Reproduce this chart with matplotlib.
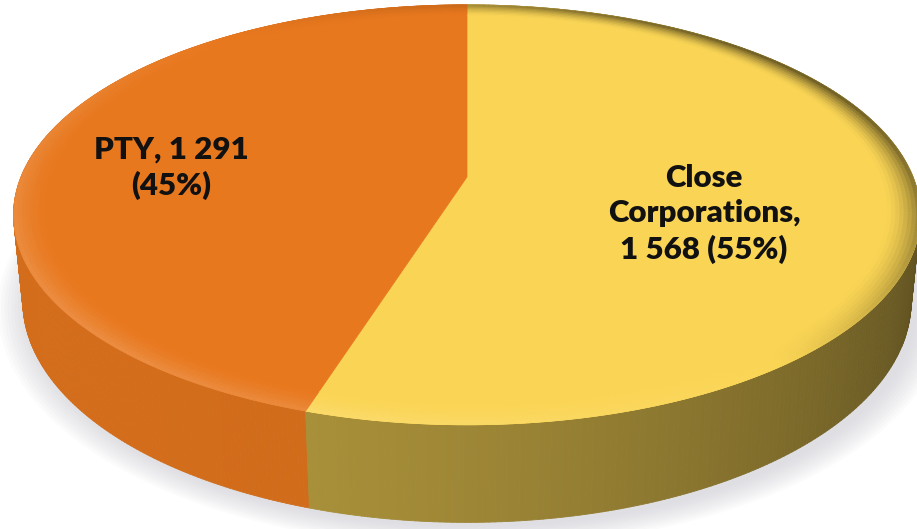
import numpy as np
import matplotlib.pyplot as plt
from matplotlib.patches import Polygon
from matplotlib.collections import PolyCollection
from matplotlib.colors import to_rgb

# data
labels = ['Close\nCorporations', 'PTY']
counts = [1568, 1291]
top_colors = ['#FAD555', '#E8781E']
label_pos = [(704, 214), (171, 168)]

W, H = 917, 529
fig = plt.figure(figsize=(W / 100, H / 100), dpi=100)
ax = fig.add_axes([0, 0, 1, 1])
ax.set_xlim(0, W)
ax.set_ylim(H, 0)
ax.axis('off')

# simple perspective camera for the 3-D disc
CX, CY, S = 467, 177, 446
PHI = np.radians(27.1)
D = 4.94
TH = 0.219


def proj(X, Y, Z):
    depth = D + Y * np.cos(PHI) - Z * np.sin(PHI)
    u = Y * np.sin(PHI) + Z * np.cos(PHI)
    return CX + S * X * D / depth, CY - S * u * D / depth


def shade(t):
    # light from front-left
    return -0.8 * np.sin(t) - 0.6 * np.cos(t)


total = sum(counts)
fracs = np.array(counts) / total
edges = np.concatenate([[0], np.cumsum(fracs)]) * 2 * np.pi

# soft shadow
t_all = np.linspace(0, 2 * np.pi, 400)
for k in range(10):
    r = 1.0 + 0.007 * k
    sx, sy = proj(r * np.sin(t_all) + 0.012, r * np.cos(t_all) - 0.015, -TH)
    ax.add_patch(Polygon(np.column_stack([sx, sy]), closed=True,
                         fc='#c8c8d0', ec='none', alpha=0.07, zorder=1))

# side walls
side_polys, side_cols, side_keys = [], [], []
for i in range(len(counts)):
    base = np.array(to_rgb(top_colors[i]))
    t = np.linspace(edges[i], edges[i + 1], 300)
    for a, b in zip(t[:-1], t[1:]):
        x0, y0 = proj(np.sin(a), np.cos(a), 0)
        x1, y1 = proj(np.sin(b), np.cos(b), 0)
        x2, y2 = proj(np.sin(b), np.cos(b), -TH)
        x3, y3 = proj(np.sin(a), np.cos(a), -TH)
        d = shade((a + b) / 2)
        if i == 0:
            f = 0.51 + 0.2 * d
        else:
            f = 0.85 + 0.06 * d
        c = np.clip(base * f, 0, 1)
        side_polys.append([(x0, y0), (x1, y1), (x2, y2), (x3, y3)])
        side_cols.append(c)
        side_keys.append(np.cos((a + b) / 2))
order = np.argsort(side_keys)[::-1]
ax.add_collection(PolyCollection([side_polys[j] for j in order],
                                 facecolors=[side_cols[j] for j in order],
                                 edgecolors=[side_cols[j] for j in order],
                                 linewidths=0.6, zorder=2))

# top faces
ax0, ay0 = proj(0, 0, 0)
for i in range(len(counts)):
    t = np.linspace(edges[i], edges[i + 1], 300)
    px, py = proj(np.sin(t), np.cos(t), 0)
    pts = np.column_stack([np.r_[ax0, px], np.r_[ay0, py]])
    ax.add_patch(Polygon(pts, closed=True, fc=top_colors[i],
                         ec=top_colors[i], lw=0.5, zorder=3))

# bevel along the rim
radii = np.linspace(0.93, 1.0, 9)
bev_polys, bev_cols = [], []
for i in range(len(counts)):
    base = np.array(to_rgb(top_colors[i]))
    t = np.linspace(edges[i], edges[i + 1], 240)
    for a, b in zip(t[:-1], t[1:]):
        d = shade((a + b) / 2)
        if d > 0:
            rim = base + (1 - base) * 0.15 * d
        else:
            rim = base * (1 + (0.55 if i == 0 else 0.2) * d)
        for j in range(len(radii) - 1):
            r0, r1 = radii[j], radii[j + 1]
            w = ((j + 1) / (len(radii) - 1)) ** 1.6
            c = np.clip(base * (1 - w) + rim * w, 0, 1)
            xa, ya = proj(r0 * np.sin(a), r0 * np.cos(a), 0)
            xb, yb = proj(r0 * np.sin(b), r0 * np.cos(b), 0)
            xc, yc = proj(r1 * np.sin(b), r1 * np.cos(b), 0)
            xd, yd = proj(r1 * np.sin(a), r1 * np.cos(a), 0)
            bev_polys.append([(xa, ya), (xb, yb), (xc, yc), (xd, yd)])
            bev_cols.append(c)
ax.add_collection(PolyCollection(bev_polys, facecolors=bev_cols,
                                 edgecolors=bev_cols, linewidths=0.5, zorder=4))

# labels
for i in range(len(counts)):
    num = f'{counts[i]:,}'.replace(',', ' ')
    pct = f'({fracs[i] * 100:.0f}%)'
    if i == 0:
        txt = f'{labels[i]},\n{num} {pct}'
    else:
        txt = f'{labels[i]}, {num}\n{pct}'
    ax.text(label_pos[i][0], label_pos[i][1], txt, ha='center', va='center',
            fontsize=22.5, fontweight='heavy', family='Lato', color='#111111',
            linespacing=1.32, zorder=5)

fig.savefig('out.png', dpi=100)
